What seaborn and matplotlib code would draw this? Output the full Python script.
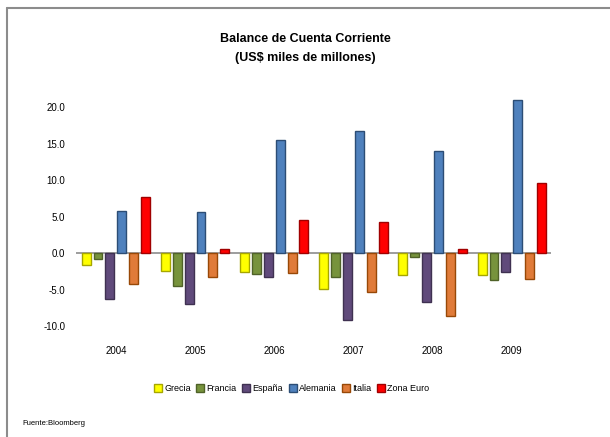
import matplotlib
matplotlib.use("Agg")
import matplotlib.pyplot as plt
from matplotlib.lines import Line2D
import numpy as np
import pandas as pd
import seaborn as sns

# balance de cuenta corriente, US$ miles de millones
years = ['2004', '2005', '2006', '2007', '2008', '2009']
countries = ['Grecia', 'Francia', 'España', 'Alemania', 'Italia', 'Zona Euro']
grecia = [-1.6, -2.4, -2.6, -4.9, -3.0, -3.0]
francia = [-0.8, -4.5, -2.8, -3.2, -0.45, -3.6]
espana = [-6.2, -7.0, -3.25, -9.2, -6.7, -2.5]
alemania = [5.8, 5.6, 15.5, 16.7, 14.0, 21.0]
italia = [-4.2, -3.2, -2.7, -5.25, -8.6, -3.55]
zona_euro = [7.75, 0.55, 4.55, 4.35, 0.55, 9.6]

colors = ['#FFFF00', '#77933C', '#604A7B', '#4F81BD', '#E07B39', '#FF0000']
edges = ['#A6A600', '#4F6228', '#3F3151', '#2C4D75', '#984807', '#A00000']

series = [grecia, francia, espana, alemania, italia, zona_euro]
rows = []
for name, vals in zip(countries, series):
    for yr, v in zip(years, vals):
        rows.append({'year': yr, 'country': name, 'value': v})
df = pd.DataFrame(rows)

sns.set_style('white')
plt.rcParams['font.family'] = ['Liberation Sans', 'DejaVu Sans']
plt.rcParams['text.color'] = 'black'

fig = plt.figure(figsize=(6.1, 4.37), dpi=100)
ax = fig.add_axes([0.125, 0.2366, 0.779, 0.5513])

sns.barplot(data=df, x='year', y='value', hue='country', order=years,
            hue_order=countries, palette=colors, saturation=1, width=0.9,
            gap=0.25, linewidth=1, ax=ax, legend=False)

# darker edge on each series
for cont, ec in zip(ax.containers, edges):
    for bar in cont:
        bar.set_edgecolor(ec)

ax.set_xlim(-0.5, 5.5)
ax.set_ylim(-11, 22)
ax.set_yticks([-10, -5, 0, 5, 10, 15, 20])
ax.set_yticklabels(['%.1f' % t for t in [-10, -5, 0, 5, 10, 15, 20]])
ax.axhline(0, color='#8C8C8C', linewidth=1.2, zorder=0.5)
for s in ax.spines.values():
    s.set_visible(False)
ax.tick_params(axis='both', length=0, labelsize=7, colors='black')
ax.tick_params(axis='y', pad=8)
ax.tick_params(axis='x', pad=9)
ax.set_xlabel('')
ax.set_ylabel('')

fig.text(0.5, 0.911, 'Balance de Cuenta Corriente', ha='center', va='center',
         fontsize=9, fontweight='bold', color='black')
fig.text(0.5, 0.868, '(US$ miles de millones)', ha='center', va='center',
         fontsize=9, fontweight='bold', color='black')

handles = [Line2D([], [], marker='s', linestyle='', markersize=5.5,
                  markerfacecolor=c, markeredgecolor=e) for c, e in zip(colors, edges)]
fig.legend(handles, countries, loc='center', bbox_to_anchor=(0.478, 0.11),
           ncol=6, frameon=False, fontsize=6.5, handletextpad=0.25,
           columnspacing=0.6, handlelength=0.9)

fig.text(0.036, 0.032, 'Fuente:Bloomberg', ha='left', va='center', fontsize=5.5,
         color='black')

# outer chart border (top and left edges visible)
fig.add_artist(Line2D([7 / 610, 7 / 610], [0, 1 - 8 / 437], transform=fig.transFigure,
                      color='#8C8C8C', linewidth=1.5))
fig.add_artist(Line2D([7 / 610, 1], [1 - 8 / 437, 1 - 8 / 437], transform=fig.transFigure,
                      color='#8C8C8C', linewidth=1.5))

fig.savefig('out.png', dpi=100, facecolor='white')
